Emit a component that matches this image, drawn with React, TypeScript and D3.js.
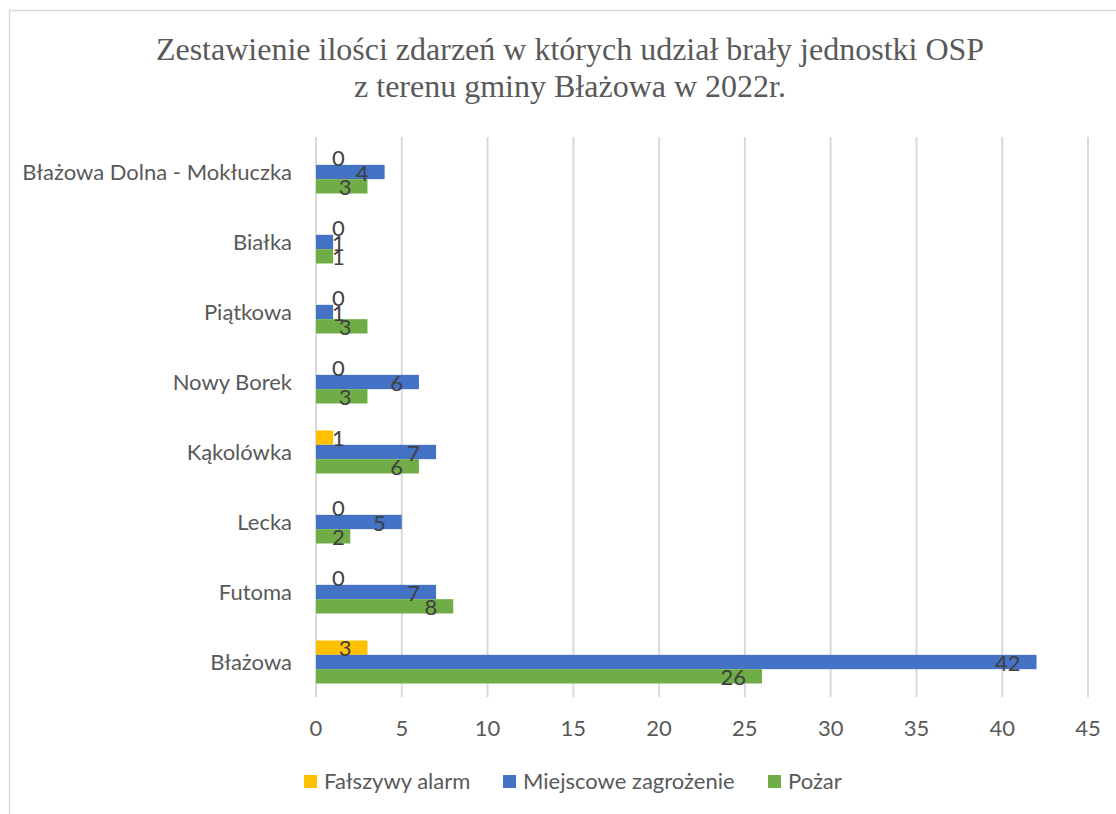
import * as d3 from 'd3'

const width = 1116,
      height = 814,
      margin = { top: 137, right: 28, bottom: 117, left: 316 }

const titleLines = [
  'Zestawienie ilości zdarzeń w których udział brały jednostki OSP',
  'z terenu gminy Błażowa w 2022r.'
]

const categories = [
  'Błażowa Dolna - Mokłuczka',
  'Białka',
  'Piątkowa',
  'Nowy Borek',
  'Kąkolówka',
  'Lecka',
  'Futoma',
  'Błażowa'
]

const seriesNames = ['Fałszywy alarm', 'Miejscowe zagrożenie', 'Pożar']
const seriesColors = ['#FFC000', '#4472C4', '#70AD47']

const falseAlarm = [0, 0, 0, 0, 1, 0, 0, 3]
const localThreat = [4, 1, 1, 6, 7, 5, 7, 42]
const fire = [3, 1, 3, 3, 6, 2, 8, 26]

const seriesValues = [falseAlarm, localThreat, fire]

const xTicks = [0, 5, 10, 15, 20, 25, 30, 35, 40, 45]

const font = 'Lato, "Open Sans", sans-serif'
const fontSize = 22
const textColor = '#595959'

const x = d3.scaleLinear()
  .domain([0, 45])
  .range([margin.left, width - margin.right])

const y = d3.scaleBand<string>()
  .domain(categories)
  .range([margin.top, height - margin.bottom])
  .paddingInner(0.386)
  .paddingOuter(0.193)

const ySub = d3.scaleBand<string>()
  .domain(seriesNames)
  .range([0, y.bandwidth()])

// Excel "inside end" labels, pushed to the bar start when they don't fit
const labelPos = (v: number) => {
  const w = String(v).length * 12
  const end = x(v) - 16
  if (end - w >= x(0) + 16) return { x: end, anchor: 'end' }
  return { x: x(0) + 16, anchor: 'start' }
}

const legendItems = [
  { sx: 304, tx: 324 },
  { sx: 503, tx: 523 },
  { sx: 768, tx: 788 }
]

export default function App() {
  return (
    <svg width={width} height={height} style={{ position: 'absolute', left: 0, top: 0, background: '#fff' }}>
      <rect x={9.5} y={10.5} width={1200} height={900} fill='#fff' stroke='#d9d9d9' strokeWidth={1.5} />

      <g className='title'>
        {titleLines.map((t, i) => (
          <text key={i} x={570} y={60 + i * 37} textAnchor='middle'
            fontFamily='"Liberation Serif", "Times New Roman", serif' fontSize={32} fill={textColor}>
            {t}
          </text>
        ))}
      </g>

      <g className='grid'>
        {xTicks.map(t => (
          <line key={t} x1={x(t)} x2={x(t)} y1={margin.top} y2={height - margin.bottom}
            stroke='#d9d9d9' strokeWidth={2} />
        ))}
      </g>

      <g className='x-labels'>
        {xTicks.map(t => (
          <text key={t} x={x(t)} y={736} textAnchor='middle' fontFamily={font} fontSize={fontSize} fill={textColor}>
            {t}
          </text>
        ))}
      </g>

      <g className='y-labels'>
        {categories.map(c => (
          <text key={c} x={292} y={(y(c) ?? 0) + y.bandwidth() / 2} dy='0.35em' textAnchor='end'
            fontFamily={font} fontSize={fontSize} fill={textColor}>
            {c}
          </text>
        ))}
      </g>

      <g className='bars'>
        {seriesNames.map((s, si) =>
          categories.map((c, ci) => {
            const v = seriesValues[si][ci]
            const by = (y(c) ?? 0) + (ySub(s) ?? 0)
            return (
              <rect key={s + c} x={x(0)} y={by} width={x(v) - x(0)} height={ySub.bandwidth()}
                fill={seriesColors[si]} />
            )
          })
        )}
      </g>

      <g className='labels'>
        {seriesNames.map((s, si) =>
          categories.map((c, ci) => {
            const v = seriesValues[si][ci]
            const by = (y(c) ?? 0) + (ySub(s) ?? 0) + ySub.bandwidth() / 2
            const p = labelPos(v)
            return (
              <text key={s + c} x={p.x} y={by + 1} dy='0.35em' textAnchor={p.anchor}
                fontFamily={font} fontSize={fontSize} fill='#404040'>
                {v}
              </text>
            )
          })
        )}
      </g>

      <g className='legend'>
        {seriesNames.map((s, i) => (
          <g key={s}>
            <rect x={legendItems[i].sx} y={775} width={13} height={13} fill={seriesColors[i]} />
            <text x={legendItems[i].tx} y={781.5} dy='0.35em' fontFamily={font} fontSize={fontSize} fill={textColor}>
              {s}
            </text>
          </g>
        ))}
      </g>
    </svg>
  )
}
